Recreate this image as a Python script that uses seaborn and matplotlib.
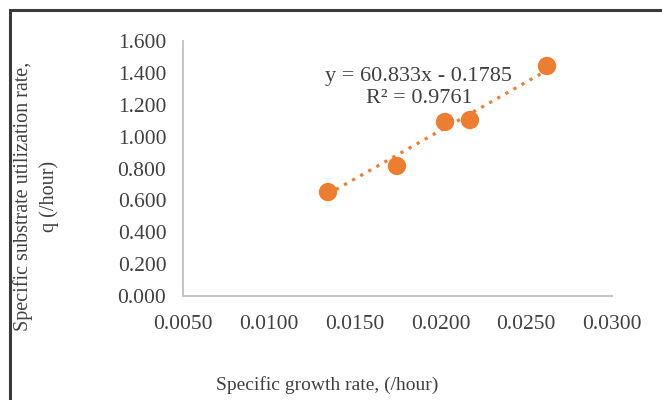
import matplotlib
matplotlib.use("Agg")
import matplotlib.pyplot as plt
from matplotlib.patches import Rectangle
import numpy as np
import pandas as pd
import seaborn as sns

# Measured data: specific growth rate vs specific substrate utilization rate
growth_rate = [0.01345, 0.01747, 0.02027, 0.02172, 0.02621]
utilization_rate = [0.652, 0.816, 1.092, 1.104, 1.443]

# Linear trendline reported on the chart
slope = 60.833
intercept = -0.1785
r_squared = 0.9761

x_ticks = [0.005, 0.010, 0.015, 0.020, 0.025, 0.030]
y_ticks = [0.0, 0.2, 0.4, 0.6, 0.8, 1.0, 1.2, 1.4, 1.6]

df = pd.DataFrame({"mu": growth_rate, "q": utilization_rate})

sns.set_theme(style="white")
plt.rcParams["font.family"] = ["Liberation Serif", "DejaVu Serif"]

ORANGE = "#ED7D31"
TEXT = "#404040"
AXIS = "#BFBFBF"

W, H = 662, 400
fig = plt.figure(figsize=(W / 100, H / 100), dpi=100)
ax = fig.add_axes([183 / W, 1 - 296 / H, (612 - 183) / W, (296 - 41) / H])

# Dotted trendline across the data range
xs = np.array([min(growth_rate), max(growth_rate)])
ax.plot(xs, slope * xs + intercept, linestyle=(0, (1, 1.9)), color=ORANGE,
        linewidth=2.3, zorder=2)

sns.scatterplot(data=df, x="mu", y="q", ax=ax, color=ORANGE, s=175,
                edgecolor="none", zorder=3)

ax.set_xlim(x_ticks[0], x_ticks[-1])
ax.set_ylim(y_ticks[0], y_ticks[-1])
ax.set_xticks(x_ticks)
ax.set_yticks(y_ticks)
ax.set_xticklabels([f"{v:.4f}" for v in x_ticks])
ax.set_yticklabels([f"{v:.3f}" for v in y_ticks])
ax.tick_params(axis="x", length=0, labelsize=15.5, colors=TEXT, pad=14)
ax.tick_params(axis="y", length=0, labelsize=15.5, colors=TEXT, pad=12)

for side in ("top", "right"):
    ax.spines[side].set_visible(False)
for side in ("left", "bottom"):
    ax.spines[side].set_color(AXIS)
    ax.spines[side].set_linewidth(1.3)

ax.set_xlabel("")
ax.set_ylabel("")

ax.text(0.01875, 1.31, f"y = {slope:.3f}x - {abs(intercept):.4f}\nR² = {r_squared:.4f}",
        ha="center", va="center", fontsize=16, color=TEXT, linespacing=1.2)

fig.text(327 / W, 1 - 385 / H, "Specific growth rate, (/hour)",
         ha="center", va="center", fontsize=14, color=TEXT)
fig.text(36 / W, 1 - 196 / H, "Specific substrate utilization rate,\nq (/hour)",
         ha="center", va="center", rotation=90, fontsize=14.5, color=TEXT,
         linespacing=1.4)

# Chart frame (left and top edges visible)
fig.patches.append(Rectangle((10 / W, -0.1), 1.2, 1 - 10 / H + 0.1,
                             transform=fig.transFigure, fill=False,
                             edgecolor="#3A3A3A", linewidth=2.2))

fig.savefig("out.png", dpi=100)
